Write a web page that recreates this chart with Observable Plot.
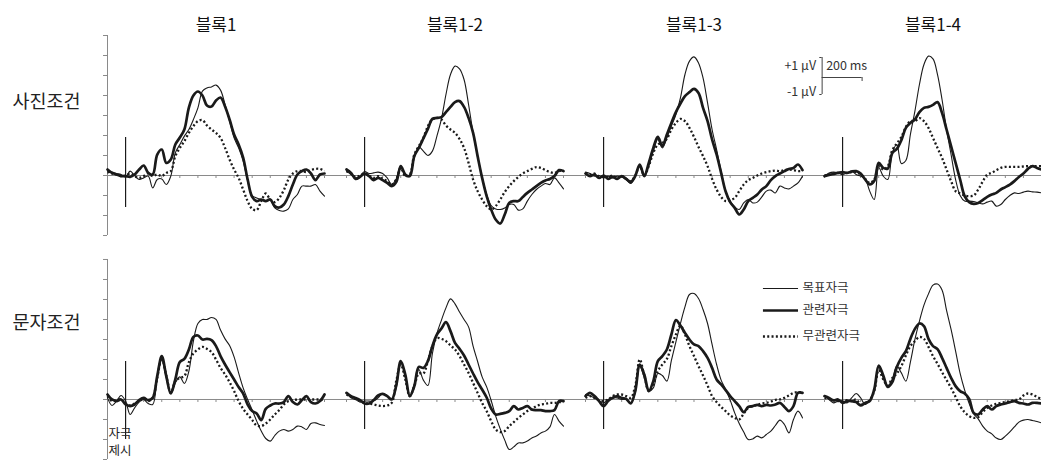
<!DOCTYPE html>
<html><head><meta charset="utf-8">
<script src="https://cdn.jsdelivr.net/npm/d3@7"></script>
<script src="https://cdn.jsdelivr.net/npm/@observablehq/plot@0.6"></script>
<style>
html,body{margin:0;padding:0;background:#fff;overflow:hidden;}
#chart svg{display:block;overflow:hidden;}
</style></head><body><div id="chart"></div>
<script>
// time points (ms from stimulus onset)
const ms = [-100,-75,-50,-25,0,25,50,75,100,125,150,175,200,225,250,275,300,325,350,375,400,425,450,475,500,525,550,575,600,625,650,675,700,725,750,775,800,825,850,875,900,925,950,975,1000,1025,1050,1075,1100];
const blocks = ["블록1","블록1-2","블록1-3","블록1-4"];
const conditions = ["사진조건","문자조건"];
const stimuli = ["목표자극","관련자극","무관련자극"];
const xTicks = [-100,0,100,200,300,400,500,600,700,800,900,1000,1100];
const yTicks = [-3,-2,-1,0,1,2,3,4,5,6,7];

// 사진조건 (µV)
const p1_tgt = [0.13,0.17,0.1,0.05,-0.07,0.22,0,-0.2,-0.12,-0.03,-0.62,-0.2,-0.17,-0.45,-0.03,1.13,1.55,1.97,2.3,2.8,3.38,4.22,4.38,4.43,4.52,4.27,3.55,2.72,1.88,1.38,0.72,-0.28,-1.0,-1.12,-1.2,-1.28,-1.2,-1.62,-1.75,-1.78,-1.67,-1.2,-0.95,-0.53,-0.53,-0.53,-0.45,-0.78,-1.03];
const p1_rel = [0.3,0.13,0.05,-0.03,-0.03,-0.07,0.05,0.3,0.5,0.13,0.05,1.05,1.3,0.63,0.8,1.55,1.9,2.3,3.4,4.0,4.2,4.0,3.5,3.45,3.75,3.9,3.45,2.8,2.05,1.55,0.9,-0.2,-1.07,-1.28,-1.2,-1.28,-1.2,-1.53,-1.6,-1.45,-1.03,-0.45,0.05,0.22,0.3,0.1,-0.23,0.05,0.1];
const p1_unr = [0.22,0.1,0.05,-0.03,0,0.1,-0.03,-0.12,-0.03,0.1,-0.03,0.05,-0.03,0.13,0.22,0.97,1.38,1.72,2.13,2.47,2.72,2.77,2.5,2.3,2.13,1.88,1.38,0.8,0.3,-0.12,-0.7,-1.28,-1.67,-1.73,-1.28,-0.9,-1.2,-1.33,-1.12,-0.73,-0.2,0.1,0.22,0.22,0.17,0.27,0.33,0.33,0.22];
const p2_tgt = [0.22,0.05,-0.12,-0.03,0.2,0.1,0.13,0.17,0.1,-0.12,-0.45,-0.17,0.47,-0.03,0.05,0.88,1.43,1.22,1.0,1.22,1.97,2.83,4.05,5.05,5.47,5.33,4.8,3.55,2.13,0.97,-0.07,-0.95,-1.5,-1.67,-1.7,-1.62,-1.45,-1.45,-1.73,-1.67,-1.28,-0.95,-0.7,-0.53,-0.4,-0.45,-0.12,-0.37,-0.67];
const p2_rel = [0.3,0.13,-0.17,-0.07,0.1,-0.03,-0.23,-0.12,-0.23,-0.37,-0.53,-0.33,0.47,0.05,-0.03,0.97,1.38,1.85,2.33,2.83,2.88,2.92,3.17,3.43,3.67,3.72,3.43,2.88,2.13,0.97,-0.12,-1.03,-1.7,-2.2,-2.4,-1.95,-1.37,-1.28,-1.28,-1.07,-0.87,-0.7,-0.53,-0.37,-0.25,-0.17,-0.03,0.27,0.22];
const p2_unr = [0.22,0.1,-0.07,0,0.1,0,-0.12,-0.03,-0.17,-0.28,-0.45,-0.2,0.38,-0.03,0.05,1.05,1.47,1.88,2.47,2.8,2.88,2.8,2.5,2.3,2.13,1.83,1.38,0.63,-0.2,-0.78,-1.2,-1.53,-1.7,-1.53,-1.2,-0.83,-0.53,-0.28,-0.07,0.1,0.22,0.33,0.42,0.38,0.27,0.17,0.13,0.22,0.27];
const p3_tgt = [0.17,0.1,-0.03,0,-0.12,-0.03,-0.12,-0.03,-0.07,-0.2,-0.4,-0.03,0.5,-0.03,0.47,1.22,1.8,1.38,1.88,2.47,3.05,3.88,5.05,5.72,5.93,5.63,4.88,3.63,2.3,1.3,0.22,-0.78,-1.28,-1.58,-1.7,-1.37,-1.2,-1.37,-1.33,-1.07,-0.78,-0.73,-0.87,-0.53,-0.62,-0.67,-0.53,-0.37,-0.03];
const p3_rel = [0.1,-0.03,0.05,-0.12,0,-0.17,-0.07,-0.17,-0.03,-0.17,-0.33,-0.03,0.55,-0.03,0.63,1.38,1.93,1.47,2.05,2.63,3.17,3.6,3.97,4.17,4.33,4.13,3.38,2.72,1.8,1.05,0.13,-0.8,-1.33,-1.62,-1.95,-1.7,-1.28,-1.12,-0.95,-0.7,-0.53,-0.23,-0.03,0.1,0.22,0.33,0.38,0.55,0.27];
const p3_unr = [0.13,0.05,0.1,-0.03,-0.03,-0.07,0,-0.12,-0.03,-0.17,-0.28,0,0.47,0,0.47,1.13,1.55,1.63,1.83,2.3,2.63,2.83,2.72,2.38,1.93,1.43,0.97,0.47,-0.17,-0.7,-1.07,-1.28,-1.23,-1.12,-0.78,-0.45,-0.23,-0.12,0,0.1,0.17,0.22,0.25,0.22,0.27,0.3,0.27,0.22,0.22];
const p4_tgt = [-0.03,0.13,0.17,0.13,0.05,0.13,0.22,0.05,-0.03,-0.17,-0.78,-1.2,0.4,-0.03,-0.2,1.13,1.55,0.6,0.75,2.05,3.22,4.55,5.55,5.97,5.83,5.05,3.8,2.3,1.05,-0.2,-1.0,-1.28,-1.28,-1.3,-1.37,-1.42,-1.33,-1.28,-1.53,-1.45,-1.2,-1.0,-0.87,-0.9,-0.83,-0.78,-0.82,-0.83,-0.87];
const p4_rel = [-0.03,0.03,0.08,0.13,0.17,0.13,0.2,0.22,0.1,-0.2,-0.45,-0.28,0.63,0.38,0.35,1.13,1.33,1.77,2.38,2.63,2.8,3.17,3.38,3.43,3.53,3.67,3.13,2.3,1.47,0.63,-0.2,-1.03,-1.33,-1.42,-1.37,-1.23,-1.07,-0.95,-0.87,-0.7,-0.58,-0.45,-0.28,-0.07,0.1,0.33,0.47,0.38,0.3];
const p4_unr = [0,0.05,0.1,0.13,0.1,0.13,0.17,0.17,0.05,-0.17,-0.37,-0.2,0.47,0.3,0.47,1.27,1.6,1.93,2.43,2.72,2.72,2.87,2.72,2.38,1.88,1.38,0.88,0.3,-0.28,-0.78,-0.9,-1.0,-1.03,-1.0,-0.7,-0.3,0.05,0.13,0.27,0.38,0.43,0.43,0.43,0.43,0.45,0.47,0.47,0.47,0.47];

// 문자조건 (µV)
const t1_tgt = [0.08,-0.3,-0.08,0.2,-0.08,-0.75,-0.42,-0.13,0,-0.2,-0.25,1.08,2.0,1.08,0.3,0.83,1.13,0.8,1.42,2.92,3.8,4.0,4.0,4.1,4.0,3.47,3.03,2.7,2.13,1.33,0.58,0,-0.53,-1.08,-1.58,-1.95,-2.08,-1.8,-1.58,-1.5,-1.58,-1.5,-1.33,-1.37,-1.5,-1.2,-1.17,-1.25,-1.3];
const t1_rel = [0.25,0,-0.08,0,-0.25,-0.33,-0.25,-0.03,0.08,-0.03,0.08,1.17,2.17,1.17,0.3,1.0,1.87,2.03,2.5,3.13,3.2,3.0,3.03,2.97,2.67,2.17,1.75,1.37,1.0,0.62,0.3,-0.25,-0.58,-0.7,-1.03,-0.47,-0.3,-0.2,-0.2,-0.13,0.17,-0.13,-0.25,-0.03,0.17,-0.13,-0.2,-0.08,0.25];
const t1_unr = [0.17,-0.08,-0.03,0,-0.2,-0.3,-0.2,-0.08,0.03,-0.08,0.08,1.08,2.08,1.2,0.33,0.92,1.08,1.17,1.87,2.3,2.5,2.63,2.53,2.37,2.0,1.58,1.25,0.87,0.42,-0.08,-0.47,-0.75,-1.03,-1.3,-1.33,-1.2,-1.0,-0.75,-0.53,-0.25,-0.08,-0.03,0,0,0,0,0,0,0];
const t2_tgt = [0.33,0.08,0,-0.13,-0.08,-0.08,-0.08,0.08,0.3,0.2,0,0.58,1.92,1.13,0.17,0.75,1.5,0.97,0.7,2.3,3.3,3.97,4.58,5.03,4.78,4.37,4.0,3.63,2.67,1.9,1.13,0.63,-0.05,-0.83,-1.47,-2.03,-2.5,-2.37,-2.17,-2.17,-2.08,-1.92,-1.83,-1.67,-1.58,-1.37,-0.75,-1.08,-1.33];
const t2_rel = [0.33,0.17,0.08,-0.03,-0.2,-0.2,-0.03,0.2,0.28,0.17,0,0.7,1.92,1.25,0.17,0.67,1.63,1.58,1.92,2.67,3.25,3.55,3.87,3.42,2.83,2.53,2.2,1.75,1.3,0.87,0.5,0.1,-0.45,-0.75,-0.72,-0.67,-0.58,-0.33,-0.5,-0.42,-0.33,-0.5,-0.53,-0.53,-0.58,-0.58,-0.53,-0.08,-0.08];
const t2_unr = [0.25,0.13,0.03,-0.08,-0.17,-0.2,-0.25,-0.3,-0.33,-0.3,-0.17,0.92,1.75,1.0,0.17,0.67,1.3,1.3,1.92,2.67,3.07,3.03,2.92,2.7,2.5,2.17,1.75,1.33,0.83,0.33,-0.17,-0.58,-1.08,-1.5,-1.63,-1.58,-1.33,-1.13,-0.92,-0.75,-0.58,-0.47,-0.33,-0.25,-0.22,-0.17,-0.17,-0.13,-0.13];
const t3_tgt = [0.25,0.17,0.08,-0.08,-0.17,0,0.08,0.08,0,0,-0.2,0.33,1.67,1.08,0.42,0.58,1.3,1.2,0.92,1.95,2.88,3.8,4.63,5.25,5.3,5.05,4.5,3.8,2.75,1.75,0.97,0.5,-0.03,-0.67,-1.2,-1.63,-2.0,-1.97,-1.83,-1.92,-1.75,-1.58,-1.3,-1.03,-1.25,-1.67,-1.0,-0.58,-0.92];
const t3_rel = [0.17,0.33,0.17,-0.08,-0.33,-0.08,0.08,0.17,0.08,0.03,-0.2,0.42,1.75,1.25,0.42,0.92,1.92,2.17,2.5,3.25,3.97,3.7,3.33,3.0,2.75,2.67,2.42,2.08,1.58,1.0,0.75,0.47,0.17,-0.08,-0.33,-0.63,-0.37,-0.33,-0.27,-0.33,-0.27,-0.3,-0.25,-0.17,-0.37,-0.58,-0.33,0.33,0.33];
const t3_unr = [0.08,0.17,0.08,-0.03,-0.08,0,0.17,0.25,0.25,0.17,0.08,0.67,2.0,1.2,0.42,0.75,1.42,1.75,2.03,2.67,3.25,3.7,3.25,2.67,2.17,1.67,1.2,0.7,0.17,-0.13,-0.37,-0.58,-0.8,-0.92,-1.0,-0.7,-0.42,-0.33,-0.27,-0.2,-0.17,-0.1,-0.02,0,0.08,0.2,0.33,0.37,0.37];
const t4_tgt = [0.17,0,-0.17,-0.08,-0.08,-0.17,0.08,0.3,0.08,-0.25,-0.03,0.42,1.63,1.08,0.67,1.03,1.67,1.33,0.92,1.87,3.0,3.92,4.72,5.28,5.72,5.77,5.47,4.45,3.5,2.42,1.3,0.47,-0.2,-0.72,-0.97,-1.33,-1.58,-1.72,-1.93,-2.0,-1.83,-1.62,-1.37,-1.13,-1.03,-1.0,-1.05,-1.1,-1.17];
const t4_rel = [0.17,0.08,-0.05,0,-0.17,-0.08,-0.08,-0.13,-0.3,-0.17,-0.08,0.5,1.7,1.2,0.63,0.87,1.63,2.08,2.42,3.03,3.53,3.8,3.67,3.03,2.67,2.52,2.08,1.58,1.08,0.67,0.42,0.3,0.03,-0.67,-0.75,-0.5,-0.33,-0.5,-0.33,-0.25,-0.2,-0.13,-0.08,-0.17,-0.2,-0.25,-0.17,-0.17,-0.2];
const t4_unr = [0.08,0.03,-0.03,-0.08,-0.08,-0.03,-0.08,0,-0.25,-0.2,-0.03,0.42,1.47,1.0,0.7,1.08,1.3,1.67,2.2,2.67,2.92,3.13,3.03,2.63,2.17,1.78,1.37,0.97,0.58,0.13,-0.33,-0.63,-0.83,-0.92,-0.88,-0.63,-0.42,-0.3,-0.22,-0.17,-0.13,-0.08,-0.03,0,0.2,0.3,0.25,0.13,0.03];

const seriesTable = [
  ["사진조건","블록1",p1_tgt,p1_rel,p1_unr],
  ["사진조건","블록1-2",p2_tgt,p2_rel,p2_unr],
  ["사진조건","블록1-3",p3_tgt,p3_rel,p3_unr],
  ["사진조건","블록1-4",p4_tgt,p4_rel,p4_unr],
  ["문자조건","블록1",t1_tgt,t1_rel,t1_unr],
  ["문자조건","블록1-2",t2_tgt,t2_rel,t2_unr],
  ["문자조건","블록1-3",t3_tgt,t3_rel,t3_unr],
  ["문자조건","블록1-4",t4_tgt,t4_rel,t4_unr]
];
const rows = seriesTable.flatMap(([cond, block, ...vals]) =>
  vals.flatMap((arr, k) => arr.map((v, i) => ({cond, block, stim: stimuli[k], t: ms[i], v}))));
const cells = conditions.flatMap(cond => blocks.map(block => ({cond, block})));
const tickCells = cells.flatMap(c => xTicks.map(t => ({...c, t})));
const yTickRows = conditions.flatMap(cond => yTicks.map(v => ({cond, v})));

const ink = "#1a1a1a", axisInk = "#8a8a8a";
const onsetBottom = {"사진조건": [-1.6,-1.6,-1.6,-1.6], "문자조건": [-2.0,-1.5,-1.5,-1.5]};
const calib = {fx: () => "블록1-4", fy: () => "사진조건"};
const leg = {fx: () => "블록1-3", fy: () => "문자조건"};
const legY = [5.55, 4.45, 3.15];
const onsetLabel = ["자극", "제시"];
const dotted = {strokeWidth: 2.3, strokeDasharray: "2,2.3", strokeLinecap: "butt"};

const plot = Plot.plot({
  width: 1041, height: 464,
  marginLeft: 107, marginRight: 0, marginTop: 35, marginBottom: 5,
  style: {fontFamily: "'Noto Sans CJK KR', 'Noto Sans', sans-serif", fontSize: "12px", background: "#fff"},
  fx: {domain: blocks, paddingInner: 0.092, paddingOuter: 0, round: false, axis: null},
  fy: {domain: conditions, paddingInner: 0.107, paddingOuter: 0, round: false, axis: null},
  x: {domain: [-100, 1100], axis: null},
  y: {domain: [-3, 7], axis: null},
  marks: [
    // baseline and ms ticks
    Plot.ruleY(cells, {fx: "block", fy: "cond", y: 0, x1: -100, x2: 1222, stroke: axisInk, strokeWidth: 1}),
    Plot.ruleX(tickCells, {fx: "block", fy: "cond", x: "t", y1: 0, y2: -0.15, stroke: axisInk, strokeWidth: 1}),
    // left µV axis (first column only)
    Plot.ruleX(conditions, {fx: () => blocks[0], fy: d => d, x: -100, y1: -3, y2: 7, stroke: axisInk, strokeWidth: 1}),
    Plot.ruleY(yTickRows, {fx: () => blocks[0], fy: "cond", y: "v", x1: -122, x2: -100, stroke: axisInk, strokeWidth: 1}),
    // stimulus onset
    Plot.ruleX(cells, {fx: "block", fy: "cond", x: 0, y1: d => onsetBottom[d.cond][blocks.indexOf(d.block)], y2: 1.9, stroke: ink, strokeWidth: 1.2}),
    // waveforms
    Plot.line(rows.filter(d => d.stim === stimuli[2]), {x: "t", y: "v", z: "block", fx: "block", fy: "cond", stroke: ink, ...dotted, curve: "catmull-rom"}),
    Plot.line(rows.filter(d => d.stim === stimuli[0]), {x: "t", y: "v", z: "block", fx: "block", fy: "cond", stroke: ink, strokeWidth: 1.1, curve: "catmull-rom"}),
    Plot.line(rows.filter(d => d.stim === stimuli[1]), {x: "t", y: "v", z: "block", fx: "block", fy: "cond", stroke: ink, strokeWidth: 2.7, curve: "catmull-rom"}),
    // column titles
    Plot.text(blocks, {fx: d => d, fy: () => conditions[0], x: 500, frameAnchor: "top", dy: -17, fontSize: 17, fill: "#111"}),
    // row labels
    Plot.text(conditions, {fx: () => blocks[0], fy: d => d, x: -100, y: (d, i) => i ? 3.8 : 3.65, dx: -95, textAnchor: "start", fontSize: 18.5, fill: "#222"}),
    // stimulus-onset label (two lines)
    Plot.text(onsetLabel, {fx: () => blocks[0], fy: () => conditions[1], x: -100, y: (d, i) => i ? -2.6 : -1.75, dx: 1, textAnchor: "start", fontSize: 12.5, fill: "#222"}),
    // calibration bar
    Plot.ruleX([0], {...calib, x: -113, y1: 4.05, y2: 5.9, stroke: "#444", strokeWidth: 1}),
    Plot.ruleY([5.9, 4.05], {...calib, y: d => d, x1: -126, x2: -113, stroke: "#444", strokeWidth: 1}),
    Plot.ruleY([4.9], {...calib, y: d => d, x1: -113, x2: 108, stroke: "#444", strokeWidth: 1}),
    Plot.ruleX([108], {...calib, x: d => d, y1: 4.7, y2: 4.9, stroke: "#444", strokeWidth: 1}),
    Plot.text(["+1 μV", "-1 μV"], {...calib, x: -113, y: (d, i) => i ? 4.2 : 5.47, dx: -6, textAnchor: "end", fontSize: 12.5, fill: "#333"}),
    Plot.text(["200 ms"], {...calib, x: -113, y: 5.47, dx: 4, textAnchor: "start", fontSize: 12.5, fill: "#333"}),
    // legend
    Plot.ruleY([stimuli[0]], {...leg, y: () => legY[0], x1: 884, x2: 1078, stroke: ink, strokeWidth: 1.1}),
    Plot.ruleY([stimuli[1]], {...leg, y: () => legY[1], x1: 884, x2: 1078, stroke: ink, strokeWidth: 2.7}),
    Plot.ruleY([stimuli[2]], {...leg, y: () => legY[2], x1: 884, x2: 1078, stroke: ink, ...dotted}),
    Plot.text(stimuli, {...leg, x: 1078, y: (d, i) => legY[i], dx: 4, textAnchor: "start", fontSize: 12.5, fill: "#333"})
  ]
});
document.getElementById("chart").appendChild(plot);
</script></body></html>
